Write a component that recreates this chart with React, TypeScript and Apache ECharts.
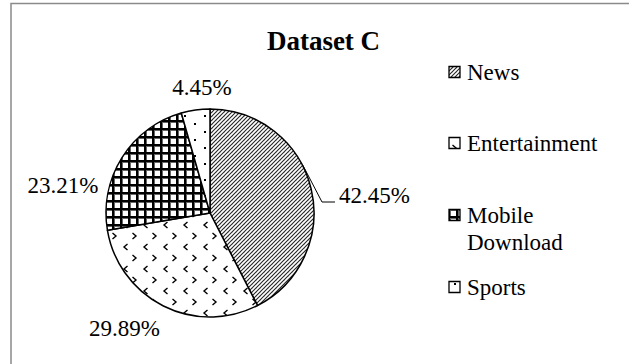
import React, { useEffect, useRef } from 'react';
import * as echarts from 'echarts';

// Chart content
const titleText = 'Dataset C';
const categories = ['News', 'Entertainment', 'Mobile Download', 'Sports'];
const shares = [42.45, 29.89, 23.21, 4.45];
const legendLines = [['News'], ['Entertainment'], ['Mobile', 'Download'], ['Sports']];

// Layout
const W = 629;
const H = 364;
const SERIF = "'Liberation Serif', 'Times New Roman', Times, serif";
const CX = 210;
const CY = 213;
const R = 104;
const FONT = 23;
const LEG_ICON_X = 449;
const LEG_TEXT_X = 467;
const LEG_Y = [72, 143, 215, 287];
const LEG_LINE_H = 27;
// label anchors: [x, y, align]
const LABEL_POS: [number, number, string][] = [
  [339, 195, 'left'],
  [124.5, 328, 'center'],
  [63, 185, 'center'],
  [202, 87, 'center'],
];

type Draw = (ctx: CanvasRenderingContext2D) => void;

function makeTile(w: number, h: number, draw: Draw) {
  const c = document.createElement('canvas');
  c.width = w;
  c.height = h;
  const ctx = c.getContext('2d')!;
  ctx.fillStyle = '#fff';
  ctx.fillRect(0, 0, w, h);
  ctx.strokeStyle = '#000';
  ctx.fillStyle = '#000';
  draw(ctx);
  return { image: c, repeat: 'repeat', imageWidth: w, imageHeight: h } as any;
}

function buildPatterns() {
  // upward diagonal stripes
  const news = makeTile(4, 4, (ctx) => {
    ctx.lineWidth = 1.05;
    ctx.strokeStyle = '#222';
    for (const k of [-4, 0, 4]) {
      ctx.beginPath();
      ctx.moveTo(k - 1, 5);
      ctx.lineTo(k + 5, -1);
      ctx.stroke();
    }
  });
  // scattered chevrons
  const ent = makeTile(20, 22, (ctx) => {
    ctx.lineWidth = 1.4;
    ctx.beginPath();
    ctx.moveTo(7.5, 2);
    ctx.lineTo(4, 5);
    ctx.lineTo(7.5, 8);
    ctx.stroke();
    ctx.beginPath();
    ctx.moveTo(12.5, 13);
    ctx.lineTo(16, 16);
    ctx.lineTo(12.5, 19);
    ctx.stroke();
  });
  // bold grid
  const mobile = makeTile(8, 8, (ctx) => {
    ctx.fillRect(0, 0, 8, 2);
    ctx.fillRect(0, 0, 2, 8);
    ctx.fillStyle = '#666';
    ctx.fillRect(0, 2, 8, 1);
    ctx.fillRect(2, 0, 1, 8);
    ctx.fillStyle = '#000';
    ctx.fillRect(0, 0, 8, 2);
    ctx.fillRect(0, 0, 2, 8);
  });
  // sparse dots
  const sports = makeTile(20, 16, (ctx) => {
    ctx.fillRect(4, 3, 2, 2);
    ctx.fillRect(14, 11, 2, 2);
  });
  return [news, ent, mobile, sports];
}

export default function App() {
  const ref = useRef<HTMLDivElement>(null);

  useEffect(() => {
    if (!ref.current) return;
    const chart = echarts.init(ref.current, null, { renderer: 'svg', width: W, height: H });
    const patterns = buildPatterns();

    const legendGraphics: any[] = [];
    legendLines.forEach((lines, i) => {
      legendGraphics.push({
        type: 'rect',
        shape: { x: LEG_ICON_X, y: LEG_Y[i] - 5.5, width: 11, height: 11 },
        style: { fill: patterns[i], stroke: '#000', lineWidth: 1.3 },
      });
      legendGraphics.push({
        type: 'text',
        x: LEG_TEXT_X,
        y: LEG_Y[i] - LEG_LINE_H / 2,
        style: {
          text: lines.join('\n'),
          fontSize: FONT,
          fontFamily: SERIF,
          lineHeight: LEG_LINE_H,
          fill: '#000',
          align: 'left',
          verticalAlign: 'top',
          textAlign: 'left',
          textVerticalAlign: 'top',
        },
      });
    });

    const startRad = (-28 * Math.PI) / 180;
    const newsLeaderStart: [number, number] = [CX + R * Math.cos(startRad) + 1, CY + R * Math.sin(startRad) + 1];

    chart.setOption({
      animation: false,
      backgroundColor: '#fff',
      graphic: [
        {
          type: 'rect',
          shape: { x: 11, y: 3.5, width: 700, height: 500 },
          style: { fill: 'none', stroke: '#8a8a8a', lineWidth: 1.5 },
          silent: true,
        },
        {
          type: 'text',
          x: 323.5,
          y: 40.5,
          style: {
            text: titleText,
            fontSize: 27,
            fontWeight: 'bold',
            fontFamily: SERIF,
            fill: '#000',
            align: 'center',
            verticalAlign: 'middle',
            textAlign: 'center',
            textVerticalAlign: 'middle',
          },
        },
        ...legendGraphics,
      ],
      series: [
        {
          type: 'pie',
          center: [CX, CY],
          radius: R,
          startAngle: 90,
          clockwise: true,
          avoidLabelOverlap: false,
          silent: true,
          emphasis: { disabled: true },
          itemStyle: { borderColor: '#000', borderWidth: 1.5 },
          label: {
            show: true,
            position: 'outside',
            formatter: (p: any) => `${Number(p.value).toFixed(2)}%`,
            fontFamily: SERIF,
            fontSize: FONT,
            color: '#000',
          },
          labelLine: { show: true, length: 10, length2: 12, lineStyle: { color: '#000', width: 1 } },
          labelLayout: (p: any) => {
            const [x, y, align] = LABEL_POS[p.dataIndex];
            const out: any = { x, y, align, verticalAlign: 'middle' };
            if (p.dataIndex === 0) {
              out.labelLinePoints = [newsLeaderStart, [322, 202], [335, 202]];
            }
            return out;
          },
          data: categories.map((name, i) => ({
            name,
            value: shares[i],
            itemStyle: { color: patterns[i] },
            labelLine: { show: i === 0 },
          })),
        },
      ],
    });

    return () => chart.dispose();
  }, []);

  return (
    <div
      ref={ref}
      style={{ position: 'absolute', left: 0, top: 0, width: W, height: H, background: '#fff' }}
    />
  );
}
